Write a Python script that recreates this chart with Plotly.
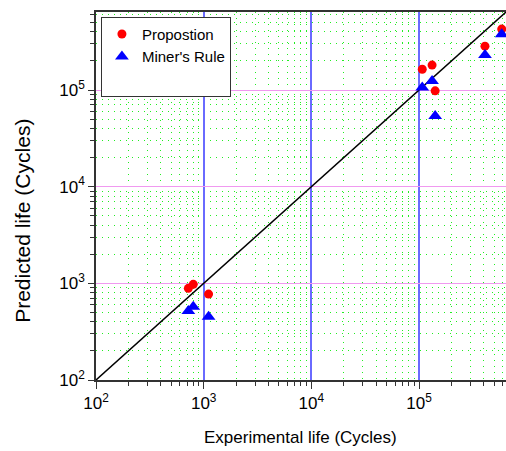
import plotly.graph_objects as go

# Data
prop_x = [720, 800, 1110, 107000, 132000, 141000, 409000, 585000]
prop_y = [888, 977, 774, 164000, 181000, 98000, 284000, 427000]
miner_x = [720, 800, 1110, 107000, 132000, 141000, 409000, 585000]
miner_y = [517, 573, 452, 106000, 124000, 54000, 230000, 378000]
line_xy = [100, 650000]
tick_vals = [100, 1000, 10000, 100000]
tick_text = ["10<sup>2</sup>", "10<sup>3</sup>", "10<sup>4</sup>", "10<sup>5</sup>"]
minor_vals = [m * d for d in (100, 1000, 10000, 100000) for m in range(2, 10)]

FONT = "Liberation Sans, Arial, sans-serif"
rng = [2, 5.807]

fig = go.Figure()
fig.add_trace(go.Scatter(x=line_xy, y=line_xy, mode="lines",
                         line=dict(color="black", width=1.5), showlegend=False, hoverinfo="skip"))
fig.add_trace(go.Scatter(x=prop_x, y=prop_y, mode="markers", name="Propostion",
                         marker=dict(symbol="circle", color="#ff0000", size=9)))
fig.add_trace(go.Scatter(x=miner_x, y=miner_y, mode="markers", name="Miner's Rule",
                         marker=dict(symbol="triangle-up", color="#0000ff", size=12)))
# blank legend entry to give the legend box its extra bottom space
fig.add_trace(go.Scatter(x=[None], y=[None], mode="markers", name=" ",
                         marker=dict(size=1, color="rgba(0,0,0,0)"), hoverinfo="skip"))

x_minor = dict(tickvals=minor_vals, ticks="outside", ticklen=4, tickcolor="#333",
               showgrid=True, gridcolor="#22ee22", griddash="1px,5px", gridwidth=1)
y_minor = dict(tickvals=minor_vals, ticks="outside", ticklen=4, tickcolor="#333",
               showgrid=True, gridcolor="#22ee22", griddash="1px,5px", gridwidth=1)

fig.update_layout(
    width=506, height=451,
    margin=dict(l=96, r=0, t=12, b=71, autoexpand=False),
    paper_bgcolor="white", plot_bgcolor="white",
    font=dict(family=FONT, size=16, color="black"),
    xaxis=dict(type="log", range=rng, tickvals=tick_vals, ticktext=tick_text,
               ticks="outside", ticklen=7, tickcolor="#333",
               showline=True, linecolor="#333", linewidth=1.5, mirror=True,
               showgrid=True, gridcolor="#6a6aff", gridwidth=1.6,
               minor=x_minor, zeroline=False, automargin=False,
               tickfont=dict(size=17, family=FONT)),
    yaxis=dict(type="log", range=rng, tickvals=tick_vals, ticktext=tick_text,
               ticks="outside", ticklen=6, tickcolor="#333",
               showline=True, linecolor="#333", linewidth=1.5,
               showgrid=True, gridcolor="#f099f0", gridwidth=1.4,
               minor=y_minor, zeroline=False, automargin=False,
               tickfont=dict(size=17, family=FONT)),
    legend=dict(x=0.012, y=0.987, xanchor="left", yanchor="top",
                bgcolor="white", bordercolor="#333", borderwidth=1,
                font=dict(size=15, family=FONT), itemwidth=30, tracegroupgap=0),
    showlegend=True,
    annotations=[
        dict(text="Experimental life (Cycles)", x=0.4976, y=-0.155, xref="paper", yref="paper",
             xanchor="center", yanchor="middle", showarrow=False,
             font=dict(size=17, family=FONT)),
        dict(text="Predicted life (Cycles)", x=-0.180, y=0.433, xref="paper", yref="paper",
             xanchor="center", yanchor="middle", showarrow=False, textangle=-90,
             font=dict(size=21, family=FONT)),
    ],
)

fig.write_html("out.html", post_script="document.body.style.margin='0';",
               config={"displayModeBar": False})
